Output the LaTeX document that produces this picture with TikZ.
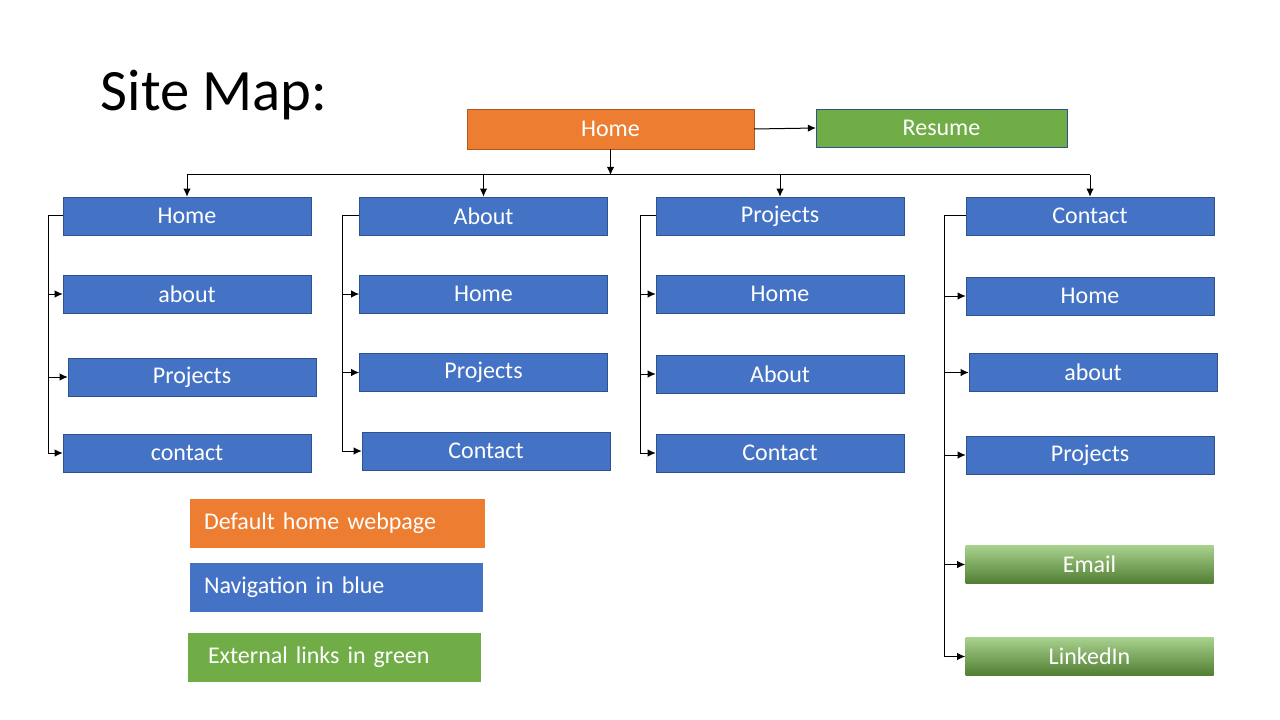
\documentclass[tikz,border=0pt]{standalone}
\usepackage{fontspec}
\setmainfont{Carlito}
\usetikzlibrary{arrows.meta, calc, positioning}
\definecolor{navblue}{HTML}{4472C4}
\definecolor{navborder}{HTML}{2F528F}
\definecolor{homeorange}{HTML}{ED7D31}
\definecolor{homeborder}{HTML}{AE5A21}
\definecolor{extgreen}{HTML}{70AD47}
\definecolor{extlight}{HTML}{A9D18E}
\definecolor{extdark}{HTML}{507E32}

\begin{document}
\begin{tikzpicture}[x=0.75pt, y=-0.75pt]
  \tikzset{pg/.style={minimum width=186pt, minimum height=28.5pt, inner sep=0pt, text=white, font=\fontsize{18}{20}\selectfont}};
  \tikzset{nav/.style={pg, draw=navborder, fill=navblue}};
  \tikzset{ext/.style={pg, top color=extlight, middle color=extgreen, bottom color=extdark}};
  \tikzset{legend/.style={minimum height=36.75pt, inner xsep=10.5pt, align=left, text=white, font=\fontsize{18}{20}\selectfont}};
  \tikzset{link/.style={line width=0.75pt, -{Latex[length=6pt,width=5.5pt]}}};
  \tikzset{rail/.style={line width=0.75pt}};
  \def\busY{175};

  \useasboundingbox (0,0) rectangle (1280,720);

  \node[anchor=base west, font=\fontsize{44}{48}\selectfont] (title) at (96,111) {Site Map:};

  % top row
  \node[pg, minimum width=215pt, minimum height=30pt, draw=homeborder, fill=homeorange] (home) at (610.5,129) {Home};
  \node[pg, minimum width=188pt, draw=navborder, fill=extgreen] (resume) at (941.5,128) {Resume};

  % column 1
  \node[nav] (h1) at (187,216) {Home};
  \node[nav] (a1) at (187,294) {about};
  \node[nav] (p1) at (192,377) {Projects};
  \node[nav] (c1) at (187,453) {contact};

  % column 2
  \node[nav] (h2) at (483.5,216) {About};
  \node[nav] (a2) at (483.5,294) {Home};
  \node[nav] (p2) at (483.5,372.5) {Projects};
  \node[nav] (c2) at (486,451) {Contact};

  % column 3
  \node[nav] (h3) at (780,216) {Projects};
  \node[nav] (a3) at (780,294) {Home};
  \node[nav] (p3) at (780,374) {About};
  \node[nav] (c3) at (780,453) {Contact};

  % column 4
  \node[nav] (h4) at (1090,216) {Contact};
  \node[nav] (a4) at (1090,296) {Home};
  \node[nav] (p4) at (1093,372.5) {about};
  \node[nav] (c4) at (1090,455) {Projects};
  \node[ext] (em) at (1089.5,564.5) {Email};
  \node[ext] (li) at (1089.5,656.5) {LinkedIn};

  % legend
  \node[legend, fill=homeorange, text width=200.25pt] (lgo) at (337.5,523.5) {Default home webpage};
  \node[legend, fill=navblue, text width=198.75pt] (lgb) at (336.5,587.5) {Navigation in blue};
  \node[legend, fill=extgreen, inner xsep=15pt, text width=189.75pt] (lgg) at (334.5,657.5) {External links in green};

  % links from home
  \coordinate (bus) at (610.5,\busY);
  \draw[link] (home.east) -- (resume.west);
  \draw[link] (home.south) -- (bus);
  \draw[rail] (h1.north |- bus) -- (h4.north |- bus);
  \foreach \n in {h1,h2,h3,h4}
    \draw[link] (\n.north |- bus) -- (\n.north);

  % rails down each column
  \coordinate (r1) at (48,216);
  \coordinate (r2) at (342,216);
  \coordinate (r3) at (640,216);
  \coordinate (r4) at (944,216);
  \draw[link] (h1.west) -- (r1) |- (c1.west);
  \draw[link] (h2.west) -- (r2) |- (c2.west);
  \draw[link] (h3.west) -- (r3) |- (c3.west);
  \draw[link] (h4.west) -- (r4) |- (li.west);
  \foreach \n in {a1,p1} \draw[link] (r1 |- \n.west) -- (\n.west);
  \foreach \n in {a2,p2} \draw[link] (r2 |- \n.west) -- (\n.west);
  \foreach \n in {a3,p3} \draw[link] (r3 |- \n.west) -- (\n.west);
  \foreach \n in {a4,p4,c4,em} \draw[link] (r4 |- \n.west) -- (\n.west);

\end{tikzpicture}
\end{document}
